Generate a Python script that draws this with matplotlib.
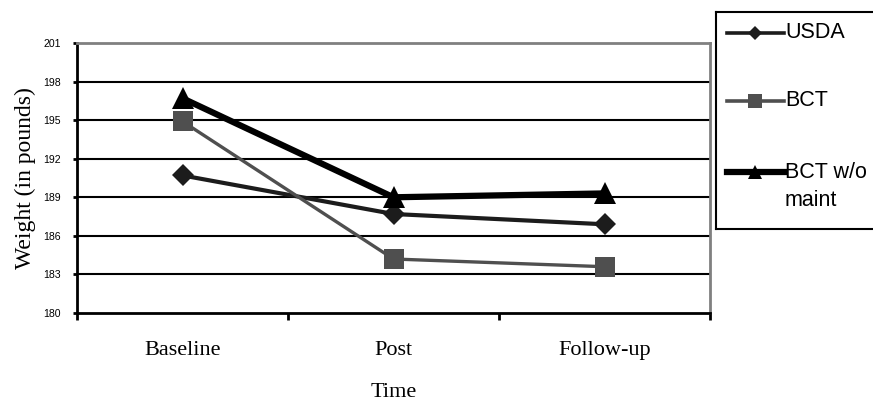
"""Weight over time for three treatment groups (Excel-style line chart)."""

import matplotlib.pyplot as plt
from matplotlib.lines import Line2D
import numpy as np

plt.rcParams.update({
    'font.family': ['Liberation Sans', 'DejaVu Sans'],
    'figure.dpi': 100,
})
SERIF = ['Liberation Serif', 'DejaVu Serif']

time_points = ['Baseline', 'Post', 'Follow-up']
series_names = ['USDA', 'BCT', 'BCT w/o\nmaint']
usda = [190.7, 187.7, 186.9]
bct = [194.9, 184.2, 183.6]
bct_no_maint = [196.7, 189.0, 189.3]
y_ticks = [180, 183, 186, 189, 192, 195, 198, 201]

values = [usda, bct, bct_no_maint]
styles = [
    dict(color='#1c1c1c', lw=3.0, marker='D', ms=11, legend_ms=7, legend_lw=2.6),
    dict(color='#4f4f4f', lw=2.4, marker='s', ms=14.5, legend_ms=10, legend_lw=2.6),
    dict(color='#000000', lw=4.5, marker='^', ms=16, legend_ms=9.5, legend_lw=4.5),
]

fig = plt.figure(figsize=(8.73, 4.03), dpi=100)
W, H = 873, 403
ax = fig.add_axes([77 / W, 1 - 313 / H, (710 - 77) / W, (313 - 43) / H])

x = np.arange(len(time_points)) + 0.5
for vals, st in zip(values, styles):
    ax.plot(x, vals, color=st['color'], lw=st['lw'], marker=st['marker'],
            ms=st['ms'], mfc=st['color'], mec=st['color'], mew=0,
            solid_joinstyle='miter', zorder=3)

ax.set_xlim(0, 3)
ax.set_ylim(180, 201)
ax.set_yticks(y_ticks)
ax.set_yticklabels([str(v) for v in y_ticks], fontsize=7.6)
for v in y_ticks[1:-1]:
    ax.axhline(v, color='black', lw=1.5, zorder=1)

ax.set_xticks([0, 1, 2, 3])
ax.set_xticklabels([])
ax.set_xticks(x, minor=True)
ax.set_xticklabels(time_points, minor=True, fontsize=16, family=SERIF)
ax.tick_params(axis='x', which='major', direction='out', length=5, width=2)
ax.tick_params(axis='x', which='minor', length=0, pad=20.5)
ax.tick_params(axis='y', direction='out', length=3, width=2, pad=8.5)

for side in ['left', 'bottom']:
    ax.spines[side].set_color('black')
    ax.spines[side].set_linewidth(2)
for side in ['top', 'right']:
    ax.spines[side].set_color('#808080')
    ax.spines[side].set_linewidth(2)

ax.set_ylabel('Weight (in pounds)', fontsize=17, family=SERIF)
ax.yaxis.set_label_coords(-0.064, 0.5)
ax.set_xlabel('Time', fontsize=16, family=SERIF)
ax.xaxis.set_label_coords(0.5, -0.258)

# legend box drawn by hand so the 2-line label sits like the original
lax = fig.add_axes([716 / W, 1 - 229 / H, (885 - 716) / W, (229 - 12) / H])
lax.set_xlim(716, 885)
lax.set_ylim(229, 12)
lax.set_xticks([])
lax.set_yticks([])
for sp in lax.spines.values():
    sp.set_color('black')
    sp.set_linewidth(1.5)

legend_y = [33, 101, 172]
for name, st, ly in zip(series_names, styles, legend_y):
    lax.add_line(Line2D([727, 784], [ly, ly], color=st['color'], lw=st['legend_lw']))
    lax.plot([755], [ly], marker=st['marker'], ms=st['legend_ms'],
             color=st['color'], mew=0)
    for i, line in enumerate(name.split('\n')):
        lax.text(785, ly + i * 28, line, fontsize=15.5, va='center', ha='left')

fig.savefig('out.png', dpi=100)
